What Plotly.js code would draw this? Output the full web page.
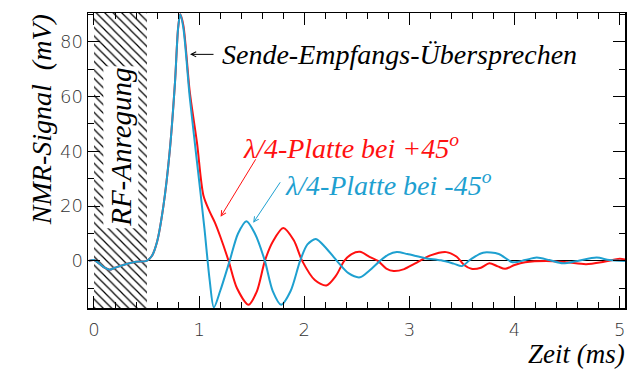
<!DOCTYPE html>
<html>
<head>
<meta charset="utf-8">
<script src="https://cdn.plot.ly/plotly-3.0.1.min.js"></script>
<style>html,body{margin:0;padding:0;background:#fff;}#chart{width:627px;height:369px;}</style>
</head>
<body>
<div id="chart"></div>
<script>
// Time (ms) and signal (mV)
const timeRed = [-0.05, 0.0, 0.05, 0.1, 0.15, 0.2, 0.3, 0.4, 0.5, 0.55, 0.6, 0.66, 0.72, 0.77, 0.8, 0.82, 0.85, 0.91, 0.98, 1.04, 1.1, 1.15, 1.2, 1.28, 1.36, 1.47, 1.55, 1.625, 1.7, 1.8, 1.9, 1.98, 2.1, 2.21, 2.3, 2.38, 2.45, 2.53, 2.62, 2.7, 2.78, 2.85, 2.95, 3.05, 3.2, 3.35, 3.45, 3.52, 3.59, 3.68, 3.76, 3.84, 3.91, 4.0, 4.1, 4.3, 4.5, 4.68, 4.85, 5.0, 5.05];
const signalRed = [0, 0.3, -1, -2.5, -3.2, -2.5, -1.2, -0.3, 0, 1.8, 7, 20, 40, 65, 85, 90, 86, 62, 43, 24, 18, 14, 9, 0, -10, -16, -11, 0, 7, 12, 7.5, 0, -7, -9, -5.5, 0, 2.5, 3.3, 1.5, 0, -2.8, -3.7, -3, -1, 2, 3.2, 1.5, -1.5, -2.9, -2.5, -0.9, -2, -2.9, -1.5, -0.5, 0, -0.5, -1.2, -0.3, 0.8, 0.5];

const timeBlue = [-0.05, 0.0, 0.05, 0.1, 0.15, 0.2, 0.3, 0.4, 0.5, 0.55, 0.6, 0.66, 0.72, 0.77, 0.8, 0.82, 0.85, 0.91, 0.98, 1.05, 1.1, 1.14, 1.2, 1.29, 1.37, 1.45, 1.53, 1.625, 1.7, 1.78, 1.87, 1.96, 2.03, 2.11, 2.2, 2.31, 2.42, 2.53, 2.62, 2.72, 2.8, 2.88, 2.98, 3.15, 3.3, 3.42, 3.5, 3.58, 3.7, 3.85, 3.98, 4.1, 4.21, 4.33, 4.46, 4.6, 4.78, 4.9, 5.05];
const signalBlue = [0, 0.3, -1, -2.5, -3.2, -2.5, -1.2, -0.3, 0, 1.8, 7, 20, 40, 65, 85, 90, 85, 60, 36, 12, -7, -17, -11, 0, 10, 14.5, 10, 0, -11, -16, -11, 0, 6, 8, 5, 0, -4.5, -6, -3.5, 0, 2.3, 3.2, 2.5, 1, 0.2, -1, -1.9, 0.5, 3, 2.5, -0.5, 0.3, 1.2, 0.3, -0.9, 0, 1.2, 0.3, 0];

// RF excitation interval (ms)
const rfStart = 0.0;
const rfEnd = 0.5;

const xRange = [-0.057, 5.05];
const yRange = [-17.2, 90.5];

const serif = "'Liberation Serif'";
const red = "#ff1010";
const blue = "#1ea0d0";

const traces = [
  {
    type: "bar",
    x: [(rfStart + rfEnd) / 2],
    y: [yRange[1] - yRange[0]],
    base: [yRange[0]],
    width: [rfEnd - rfStart],
    marker: {
      color: "#ffffff",
      line: {width: 0},
      pattern: {shape: "\\", fgcolor: "#000000", bgcolor: "#ffffff", size: 6, solidity: 0.2}
    },
    hoverinfo: "skip"
  },
  {
    type: "scatter", mode: "lines",
    x: timeRed, y: signalRed,
    line: {color: red, width: 2, shape: "spline", smoothing: 0.8}
  },
  {
    type: "scatter", mode: "lines",
    x: timeBlue, y: signalBlue,
    line: {color: blue, width: 2, shape: "spline", smoothing: 0.8}
  }
];

const axisCommon = {
  showgrid: false,
  showline: true,
  linecolor: "#000",
  linewidth: 1.5,
  mirror: "ticks",
  ticks: "inside",
  ticklen: 12,
  tickwidth: 1,
  tickcolor: "#000",
  tickfont: {family: "DejaVu Sans", weight: 200, size: 18, color: "#333"},
  fixedrange: true
};

const layout = {
  width: 627, height: 369,
  margin: {l: 88, r: 2, t: 13, b: 61},
  paper_bgcolor: "#fff", plot_bgcolor: "#fff",
  showlegend: false,
  bargap: 0,
  font: {family: serif},
  xaxis: Object.assign({}, axisCommon, {
    range: xRange, dtick: 1, tick0: 0,
    zeroline: false, ticklabelstandoff: 5,
    minor: {dtick: 0.2, tick0: 0, ticks: "inside", ticklen: 6, tickcolor: "#000", tickwidth: 1}
  }),
  yaxis: Object.assign({}, axisCommon, {
    range: yRange, dtick: 20, tick0: 0,
    zeroline: true, zerolinecolor: "#000", zerolinewidth: 1,
    minor: {dtick: 10, tick0: 0, ticks: "inside", ticklen: 6, tickcolor: "#000", tickwidth: 1}
  }),
  annotations: [
    {xref: "paper", yref: "paper", x: -0.12, y: 0.637, textangle: -90, showarrow: false,
     text: "<i>NMR-Signal  (mV)</i>", font: {family: serif, size: 28, color: "#000"}},
    {xref: "paper", yref: "paper", x: 1.003, y: -0.215, xanchor: "right", showarrow: false,
     text: "<i>Zeit (ms)</i>", font: {family: serif, size: 27, color: "#000"}},
    {x: 0.26, y: 41.4, textangle: -90, showarrow: false, bgcolor: "#fff", borderpad: 1,
     text: "<i>RF-Anregung</i>", font: {family: serif, size: 29, color: "#000"}},
    {x: 2.91, y: 75.4, showarrow: false,
     text: "<i>Sende-Empfangs-Übersprechen</i>", font: {family: serif, size: 28, color: "#000"}},
    {x: 0.913, y: 75.4, ax: 25, ay: 0, text: "", showarrow: true,
     arrowhead: 5, arrowsize: 1, arrowwidth: 1, arrowcolor: "#000"},
    {x: 2.443, y: 41.8, showarrow: false,
     text: "<i>λ/4-Platte bei +45<sup>o</sup></i>", font: {family: serif, size: 28, color: red}},
    {x: 1.204, y: 16.1, ax: 36, ay: -59, text: "", showarrow: true,
     arrowhead: 5, arrowsize: 1, arrowwidth: 1, arrowcolor: red},
    {x: 2.80, y: 28.3, showarrow: false,
     text: "<i>λ/4-Platte bei -45<sup>o</sup></i>", font: {family: serif, size: 28, color: blue}},
    {x: 1.514, y: 13.9, ax: 28, ay: -42, text: "", showarrow: true,
     arrowhead: 5, arrowsize: 1, arrowwidth: 1, arrowcolor: blue}
  ]
};

Plotly.newPlot("chart", traces, layout, {displayModeBar: false, staticPlot: true});
</script>
</body>
</html>
